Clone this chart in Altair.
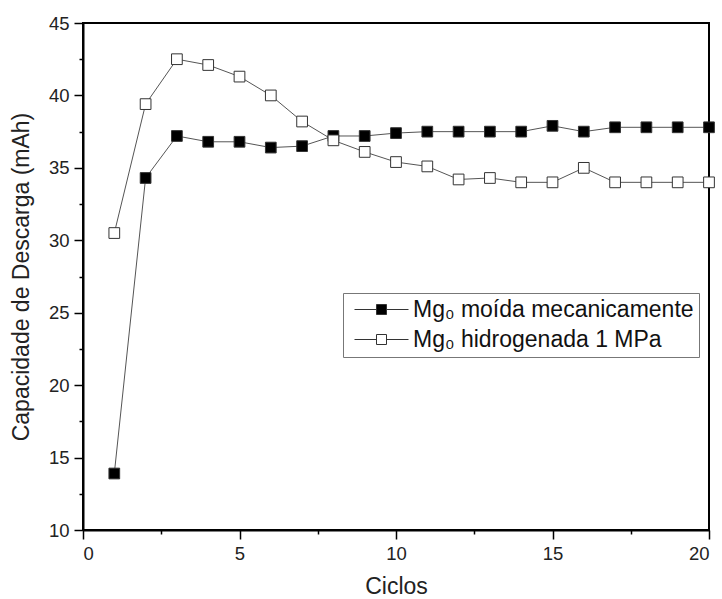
import altair as alt
import pandas as pd

ciclos = list(range(1, 21))
moida = [13.9, 34.3, 37.2, 36.8, 36.8, 36.4, 36.5, 37.2, 37.2, 37.4,
         37.5, 37.5, 37.5, 37.5, 37.9, 37.5, 37.8, 37.8, 37.8, 37.8]
hidro = [30.5, 39.4, 42.5, 42.1, 41.3, 40.0, 38.2, 36.9, 36.1, 35.4,
         35.1, 34.2, 34.3, 34.0, 34.0, 35.0, 34.0, 34.0, 34.0, 34.0]
series_names = ["Mg₀ moída mecanicamente", "Mg₀ hidrogenada 1 MPa"]
x_major = [0, 5, 10, 15, 20]
x_minor = [2.5, 7.5, 12.5, 17.5]
y_major = [10, 15, 20, 25, 30, 35, 40, 45]
y_minor = [12.5, 17.5, 22.5, 27.5, 32.5, 37.5, 42.5]

df = pd.DataFrame({
    "ciclo": ciclos * 2,
    "valor": moida + hidro,
    "serie": [series_names[0]] * 20 + [series_names[1]] * 20,
})

FONT = "Liberation Sans"
xs = alt.Scale(domain=[0, 20], nice=False, zero=False)
ys = alt.Scale(domain=[10, 45], nice=False, zero=False)

common_axis = dict(domainColor="black", domainWidth=2, tickColor="black", tickWidth=1.5,
                   labelFont=FONT, titleFont=FONT, labelColor="#222", titleColor="#222",
                   grid=False, titleFontWeight="normal", format="d")

lines = alt.Chart(df).mark_line(color="#555", strokeWidth=1).encode(
    x=alt.X("ciclo:Q", scale=xs, axis=alt.Axis(values=x_major, title="Ciclos", orient="bottom",
                                                tickSize=9, labelFontSize=18.5, titleFontSize=23,
                                                labelPadding=5, titlePadding=13, **common_axis)),
    y=alt.Y("valor:Q", scale=ys, axis=alt.Axis(values=y_major, title="Capacidade de Descarga (mAh)",
                                                orient="left", tickSize=9, labelFontSize=18.5,
                                                titleFontSize=23, labelPadding=5, titlePadding=15,
                                                **common_axis)),
    detail="serie:N",
)

legend_path = "M-5.4,0H-1M1,0H5.4M-1,-1H1V1H-1Z"

points = alt.Chart(df).mark_square(size=115, stroke="#333", strokeWidth=1, opacity=1).encode(
    x=alt.X("ciclo:Q", scale=xs, axis=alt.Axis(values=x_minor, title=None, labels=False,
                                                orient="bottom", tickSize=4, domain=False,
                                                tickColor="black", tickWidth=1.5, grid=False)),
    y=alt.Y("valor:Q", scale=ys, axis=alt.Axis(values=y_minor, title=None, labels=False,
                                                orient="left", tickSize=4, domain=False,
                                                tickColor="black", tickWidth=1.5, grid=False)),
    fill=alt.Fill("serie:N", scale=alt.Scale(domain=series_names, range=["#000000", "#ffffff"]),
                  legend=alt.Legend(title=None, orient="none", legendX=260, legendY=270,
                                    symbolType=legend_path, symbolSize=100,
                                    symbolStrokeColor="#333", symbolStrokeWidth=1,
                                    labelFont=FONT, labelFontSize=23, labelColor="#111",
                                    labelLimit=500, rowPadding=6, padding=5,
                                    strokeColor="#777", fillColor="white",
                                    symbolOffset=22, labelOffset=20)),
)

chart = alt.layer(lines, points).resolve_axis(x="independent", y="independent").properties(
    width=626, height=507,
    autosize=alt.AutoSizeParams(type="none"),
    padding={"left": 83, "top": 23, "right": 13, "bottom": 69},
).configure_view(stroke="black", strokeWidth=2)

chart.save("out.html", embed_options={"renderer": "svg", "actions": False})
